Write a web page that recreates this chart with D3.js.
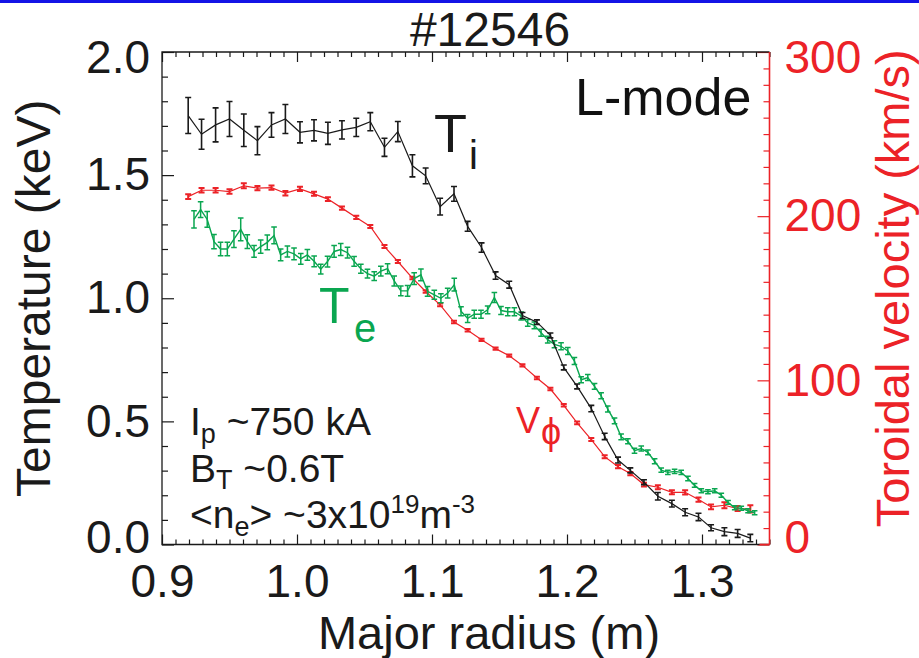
<!DOCTYPE html>
<html>
<head>
<meta charset="utf-8">
<script src="https://cdn.jsdelivr.net/npm/d3@7/dist/d3.min.js"></script>
<style>
  html, body { margin: 0; padding: 0; background: #fff; }
  svg { display: block; }
  text { font-family: "Liberation Sans", Arial, Helvetica, sans-serif; }
</style>
</head>
<body>
<svg id="chart" width="919" height="658"></svg>
<script>
// Charge-exchange radial grid (m), shared by Ti and toroidal velocity
const R_CX = [0.9194,0.9293,0.9397,0.9500,0.9606,0.9707,0.9811,0.9914,1.0022,1.0126,
              1.0229,1.0333,1.0439,1.0543,1.0648,1.0747,1.0855,1.0953,1.1060,1.1163,
              1.1264,1.1367,1.1471,1.1572,1.1670,1.1777,1.1877,1.1976,1.2075,1.2180,
              1.2279,1.2378,1.2469,1.2570,1.2673,1.2777,1.2875,1.2974,1.3067,1.3166,
              1.3264,1.3358];
// Ion temperature (keV) and its uncertainty
const TI = [1.742,1.666,1.704,1.728,1.682,1.640,1.704,1.728,1.674,1.682,
            1.670,1.684,1.694,1.717,1.613,1.677,1.538,1.497,1.372,1.424,
            1.292,1.206,1.092,1.055,0.930,0.903,0.849,0.719,0.642,0.552,
            0.439,0.343,0.301,0.253,0.196,0.166,0.131,0.112,0.068,0.052,
            0.045,0.026];
const TI_ERR = [0.073,0.061,0.069,0.071,0.066,0.057,0.050,0.059,0.043,0.043,
                0.045,0.037,0.037,0.037,0.037,0.041,0.045,0.032,0.034,0.030,
                0.020,0.019,0.015,0.014,0.012,0.009,0.010,0.010,0.010,0.013,
                0.013,0.012,0.010,0.010,0.015,0.014,0.014,0.015,0.012,0.016,
                0.016,0.015];
// Toroidal velocity (km/s) and its uncertainty
const VPHI = [211.9,215.8,215.8,215.0,218.5,217.1,217.4,214.0,216.6,213.6,
              210.4,204.9,199.2,193.7,181.5,172.4,162.3,154.1,146.0,135.5,
              130.5,124.7,119.3,115.0,109.1,101.4,94.7,84.8,74.1,63.9,
              53.5,47.4,43.2,36.5,34.9,31.8,31.8,27.4,22.9,23.9,
              21.9,21.7];
const VPHI_ERR = [1.4,1.4,1.4,1.4,1.5,1.3,1.3,1.4,1.3,1.2,
                  1.1,1.0,1.0,0.9,0.9,0.9,0.8,0.8,0.8,0.8,
                  0.8,0.7,0.7,0.7,0.7,0.8,0.8,0.8,0.8,0.9,
                  0.9,1.0,1.0,1.1,1.2,1.2,1.3,1.3,1.4,1.8,
                  1.5,2.2];
// Thomson scattering radial grid (m)
const R_TS = [0.9237,0.9286,0.9335,0.9385,0.9434,0.9484,0.9533,0.9583,0.9632,0.9682,
              0.9731,0.9780,0.9830,0.9879,0.9929,0.9978,1.0028,1.0077,1.0127,1.0176,
              1.0226,1.0275,1.0324,1.0374,1.0423,1.0473,1.0522,1.0572,1.0621,1.0671,
              1.0720,1.0769,1.0819,1.0868,1.0918,1.0967,1.1017,1.1066,1.1116,1.1165,
              1.1215,1.1264,1.1313,1.1363,1.1412,1.1462,1.1511,1.1561,1.1610,1.1660,
              1.1709,1.1758,1.1808,1.1857,1.1907,1.1956,1.2006,1.2055,1.2105,1.2154,
              1.2204,1.2253,1.2302,1.2352,1.2401,1.2451,1.2500,1.2550,1.2599,1.2649,
              1.2698,1.2747,1.2797,1.2846,1.2896,1.2945,1.2995,1.3044,1.3094,1.3143,
              1.3193,1.3242,1.3291,1.3341,1.3390];
// Electron temperature (keV) and its uncertainty
const TE = [1.32,1.36,1.32,1.23,1.20,1.20,1.24,1.28,1.23,1.19,
            1.21,1.227,1.255,1.176,1.19,1.18,1.16,1.176,1.15,1.118,
            1.149,1.19,1.198,1.185,1.15,1.12,1.10,1.09,1.11,1.12,
            1.07,1.03,1.03,1.08,1.095,1.028,1.014,1.00,1.021,1.055,
            0.947,0.918,0.935,0.935,0.953,1.003,0.95,0.945,0.945,0.928,
            0.90,0.89,0.86,0.832,0.813,0.805,0.786,0.745,0.669,0.678,
            0.642,0.604,0.550,0.502,0.437,0.419,0.381,0.390,0.374,0.338,
            0.302,0.293,0.297,0.293,0.268,0.240,0.218,0.214,0.218,0.200,
            0.171,0.149,0.147,0.137,0.129];
const TE_ERR = [0.035,0.032,0.032,0.029,0.027,0.027,0.034,0.046,0.028,0.024,
                0.027,0.030,0.034,0.024,0.022,0.024,0.022,0.022,0.022,0.020,
                0.022,0.024,0.024,0.022,0.020,0.018,0.018,0.018,0.020,0.020,
                0.020,0.020,0.022,0.024,0.024,0.020,0.018,0.018,0.020,0.026,
                0.018,0.016,0.016,0.016,0.016,0.020,0.016,0.016,0.016,0.016,
                0.014,0.014,0.014,0.014,0.014,0.014,0.014,0.014,0.012,0.012,
                0.012,0.012,0.012,0.012,0.012,0.010,0.010,0.010,0.010,0.010,
                0.009,0.009,0.009,0.009,0.009,0.008,0.008,0.008,0.008,0.008,
                0.008,0.008,0.008,0.008,0.008];

// Axis tick values
const X_MAJOR = [0.9, 1.0, 1.1, 1.2, 1.3];
const T_MAJOR = [0.0, 0.5, 1.0, 1.5, 2.0];
const V_MAJOR = [0, 100, 200, 300];

const RED = "#ec2227", GREEN = "#0aa650", BLACK = "#1a1a1a";

const svg = d3.select("#chart");
const W = 919, H = 658;
const plot = { left: 162, right: 769.5, top: 52, bottom: 544.5 };

svg.append("rect").attr("width", W).attr("height", H).attr("fill", "#fff");
svg.append("rect").attr("x", 0).attr("y", 0).attr("width", W).attr("height", 3).attr("fill", "#1414e6");

const x = d3.scaleLinear().domain([0.9, 1.35]).range([plot.left, plot.right]);
const yT = d3.scaleLinear().domain([0, 2.0]).range([plot.bottom, plot.top]);
const yV = d3.scaleLinear().domain([0, 300]).range([plot.bottom, plot.top]);

const xMinor = d3.range(0, 46).map(i => +(0.9 + i * 0.01).toFixed(2)).filter(v => !X_MAJOR.some(m => Math.abs(m - v) < 1e-6));
const tMinor = d3.range(0, 21).map(i => +(i * 0.1).toFixed(1)).filter(v => !T_MAJOR.some(m => Math.abs(m - v) < 1e-6));
const vMinor = d3.range(0, 31).map(i => i * 10).filter(v => V_MAJOR.indexOf(v) < 0);

function styleAxis(g, color) {
  g.select(".domain").remove();
  g.selectAll(".tick line").attr("stroke", color).attr("stroke-width", 1.2);
  g.selectAll("text").attr("fill", color).attr("font-size", 46)
    .attr("font-family", "Liberation Sans, Arial, sans-serif");
}

// bottom axis
const gxB = svg.append("g").attr("transform", `translate(0,${plot.bottom})`);
gxB.append("g").call(d3.axisBottom(x).tickValues(xMinor).tickSize(-5).tickFormat("")).call(g => styleAxis(g, BLACK));
gxB.append("g").call(d3.axisBottom(x).tickValues(X_MAJOR).tickSize(-10).tickPadding(20).tickFormat(d3.format(".1f"))).call(g => styleAxis(g, BLACK));
// top axis (mirrored ticks)
const gxT = svg.append("g").attr("transform", `translate(0,${plot.top})`);
gxT.append("g").call(d3.axisTop(x).tickValues(xMinor).tickSize(-5).tickFormat("")).call(g => styleAxis(g, BLACK));
gxT.append("g").call(d3.axisTop(x).tickValues(X_MAJOR).tickSize(-10).tickFormat("")).call(g => styleAxis(g, BLACK));

// left axis
const gyL = svg.append("g").attr("transform", `translate(${plot.left},0)`);
gyL.append("g").call(d3.axisLeft(yT).tickValues(tMinor).tickSize(-6).tickFormat("")).call(g => styleAxis(g, BLACK));
gyL.append("g").call(d3.axisLeft(yT).tickValues(T_MAJOR).tickSize(-12).tickPadding(12).tickFormat(d3.format(".1f"))).call(g => styleAxis(g, BLACK));

// right axis
const gyR = svg.append("g").attr("transform", `translate(${plot.right},0)`);
gyR.append("g").call(d3.axisRight(yV).tickValues(vMinor).tickSize(-6).tickFormat("")).call(g => styleAxis(g, RED));
gyR.append("g").call(d3.axisRight(yV).tickValues(V_MAJOR).tickSize(-12).tickPadding(15).tickFormat(d3.format("d"))).call(g => styleAxis(g, RED));

// keep end labels inside the frame height
function nudgeEnds(g, lo, hi) {
  g.selectAll(".tick").each(function(d) {
    const t = d3.select(this).select("text");
    if (t.empty()) return;
    if (d === lo) t.attr("y", -7);
    if (d === hi) t.attr("y", 6);
  });
}
nudgeEnds(gyL, 0, 2.0);
nudgeEnds(gyR, 0, 300);

// frame
svg.append("path")
  .attr("d", `M${plot.right},${plot.top} H${plot.left} V${plot.bottom} H${plot.right}`)
  .attr("fill", "none").attr("stroke", BLACK).attr("stroke-width", 1.3);
svg.append("line")
  .attr("x1", plot.right).attr("x2", plot.right).attr("y1", plot.top).attr("y2", plot.bottom)
  .attr("stroke", RED).attr("stroke-width", 1.6);
svg.append("line")
  .attr("x1", plot.right - 10).attr("x2", plot.right).attr("y1", plot.bottom).attr("y2", plot.bottom)
  .attr("stroke", RED).attr("stroke-width", 1.6);

// series drawing
function drawSeries(R, vals, errs, yScale, color, opts) {
  const pts = R.map((r, i) => ({ r, v: vals[i], e: errs[i] }));
  const g = svg.append("g");
  g.append("path").datum(pts)
    .attr("d", d3.line().x(d => x(d.r)).y(d => yScale(d.v)))
    .attr("fill", "none").attr("stroke", color).attr("stroke-width", opts.lw);
  const c = opts.cap;
  g.selectAll("path.err").data(pts).join("path").attr("class", "err")
    .attr("d", d => {
      const px = x(d.r), y0 = yScale(d.v - d.e), y1 = yScale(d.v + d.e);
      return `M${px},${y0}V${y1}M${px - c},${y0}H${px + c}M${px - c},${y1}H${px + c}`;
    })
    .attr("fill", "none").attr("stroke", color).attr("stroke-width", opts.ew);
}

drawSeries(R_CX, VPHI, VPHI_ERR, yV, RED, { lw: 1.2, ew: 2.0, cap: 3 });
drawSeries(R_TS, TE, TE_ERR, yT, GREEN, { lw: 1.4, ew: 1.5, cap: 2.8 });
drawSeries(R_CX, TI, TI_ERR, yT, BLACK, { lw: 1.2, ew: 1.6, cap: 3 });

// titles
svg.append("text").attr("x", 490).attr("y", 46).attr("text-anchor", "middle")
  .attr("font-size", 48).attr("fill", BLACK).text("#12546");
svg.append("text").attr("x", 489).attr("y", 649).attr("text-anchor", "middle")
  .attr("font-size", 47).attr("fill", BLACK).text("Major radius (m)");
svg.append("text").attr("transform", `translate(50,${(plot.top + plot.bottom) / 2}) rotate(-90)`)
  .attr("text-anchor", "middle").attr("font-size", 48).attr("fill", BLACK).text("Temperature (keV)");
svg.append("text").attr("transform", `translate(909,${(plot.top + plot.bottom) / 2 - 10}) rotate(-90)`)
  .attr("text-anchor", "middle").attr("font-size", 47).attr("fill", RED).text("Toroidal velocity (km/s)");

// annotations
svg.append("text").attr("x", 575).attr("y", 115).attr("font-size", 52).attr("fill", "#111").text("L-mode");

svg.append("text").attr("x", 434).attr("y", 152).attr("font-size", 54).attr("fill", BLACK).text("T");
svg.append("text").attr("x", 469).attr("y", 169).attr("font-size", 40).attr("fill", BLACK).text("i");

svg.append("text").attr("x", 319).attr("y", 323).attr("font-size", 50).attr("fill", GREEN).text("T");
svg.append("text").attr("x", 354).attr("y", 342).attr("font-size", 40).attr("fill", GREEN).text("e");

svg.append("text").attr("x", 516).attr("y", 433).attr("font-size", 36).attr("fill", RED).text("V");
svg.append("text").attr("x", 541).attr("y", 444).attr("font-size", 36).attr("fill", RED).text("\u03D5");

// plasma parameters
const params = svg.append("g").attr("fill", BLACK);
const l1 = params.append("text").attr("x", 190).attr("y", 435).attr("font-size", 39);
l1.append("tspan").text("I");
l1.append("tspan").attr("font-size", 27).attr("dy", 8).text("p");
l1.append("tspan").attr("dy", -8).text(" ~750 kA");

const l2 = params.append("text").attr("x", 190).attr("y", 482).attr("font-size", 39);
l2.append("tspan").text("B");
l2.append("tspan").attr("font-size", 27).attr("dy", 7).text("T");
l2.append("tspan").attr("dy", -7).text(" ~0.6T");

const l3 = params.append("text").attr("x", 190).attr("y", 528).attr("font-size", 39);
l3.append("tspan").text("<n");
l3.append("tspan").attr("font-size", 27).attr("dy", 8).text("e");
l3.append("tspan").attr("dy", -8).text("> ~3x10");
l3.append("tspan").attr("font-size", 26).attr("dy", -15).text("19");
l3.append("tspan").attr("dy", 15).text("m");
l3.append("tspan").attr("font-size", 26).attr("dy", -15).text("-3");
</script>
</body>
</html>
